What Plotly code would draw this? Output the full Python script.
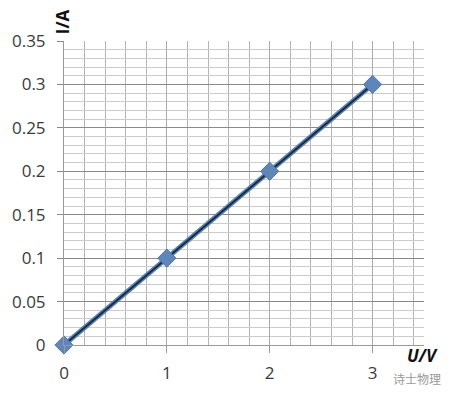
import plotly.graph_objects as go

U = [0, 1, 2, 3]
I = [0, 0.1, 0.2, 0.3]
x_ticks = [0, 1, 2, 3]
y_ticks = [0, 0.05, 0.1, 0.15, 0.2, 0.25, 0.3, 0.35]
y_tick_text = ["0", "0.05", "0.1", "0.15", "0.2", "0.25", "0.3", "0.35"]

W, H = 452, 396
L, R, T, B = 64, 28, 41, 48
PW, PH = W - L - R, H - T - B


def px(x):
    return (x - L) / PW


def py(y):
    return (H - B - y) / PH


fig = go.Figure()
fig.add_trace(go.Scatter(x=U, y=I, mode="lines", cliponaxis=False,
                         line=dict(color="#5b84b8", width=5), hoverinfo="skip"))
fig.add_trace(go.Scatter(x=U, y=I, mode="lines", cliponaxis=False,
                         line=dict(color="#1c2b3d", width=2), hoverinfo="skip"))
fig.add_trace(go.Scatter(x=U, y=I, mode="markers", cliponaxis=False,
                         marker=dict(symbol="diamond", size=14, color="#5f86b8",
                                     line=dict(color="#4f76a8", width=1))))

fig.update_layout(
    width=W, height=H,
    margin=dict(l=L, r=R, t=T, b=B),
    paper_bgcolor="white", plot_bgcolor="white",
    showlegend=False,
    font=dict(family="Open Sans", size=17, color="#3a3a3a"),
    xaxis=dict(range=[0, 3.5], tickvals=x_ticks, ticks="outside", ticklen=7,
               tickcolor="#999999", showline=True, linecolor="#999999", linewidth=1,
               showgrid=True, gridcolor="#aaaaaa", gridwidth=1, zeroline=False,
               ticklabelstandoff=6,
               minor=dict(dtick=0.2, tick0=0, showgrid=True, gridcolor="#b4b4b4",
                          gridwidth=1, ticks=""),
               tickfont=dict(size=17, color="#3a3a3a")),
    yaxis=dict(range=[0, 0.35], tickvals=y_ticks, ticktext=y_tick_text,
               ticks="outside", ticklen=6, tickcolor="#888888",
               showline=True, linecolor="#999999", linewidth=1,
               showgrid=True, gridcolor="#8a8a8a", gridwidth=1, zeroline=False,
               ticklabelstandoff=8,
               minor=dict(dtick=0.01, tick0=0, showgrid=True, gridcolor="#cccccc",
                          gridwidth=1, ticks=""),
               tickfont=dict(size=17, color="#3a3a3a")),
    annotations=[
        dict(text="<b>I/A</b>", x=px(62), y=py(22), xref="paper", yref="paper",
             xanchor="center", yanchor="middle",
             showarrow=False, textangle=-90, font=dict(size=17, color="#111111")),
        dict(text="<b><i>U/V</i></b>", x=px(422), y=py(359), xref="paper", yref="paper",
             xanchor="center", yanchor="middle",
             showarrow=False, font=dict(size=17, color="#111111")),
        dict(text="诗士物理", x=px(417), y=py(382), xref="paper", yref="paper",
             xanchor="center", yanchor="middle", showarrow=False,
             font=dict(family="Noto Sans CJK SC", size=12, color="#9a9a9a")),
    ],
)
fig.write_html("out.html")
